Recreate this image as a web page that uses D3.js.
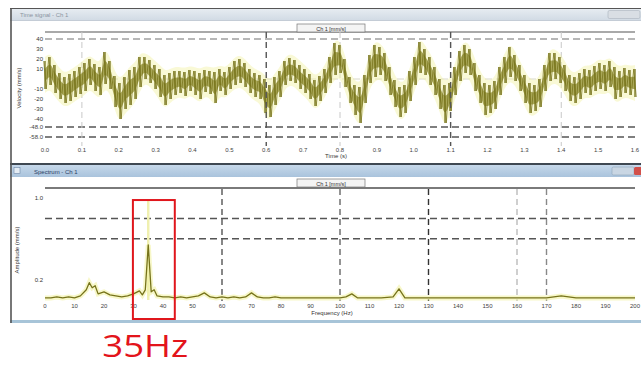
<!DOCTYPE html>
<html><head><meta charset="utf-8">
<script src="https://cdn.jsdelivr.net/npm/d3@7"></script>
<style>
html,body{margin:0;padding:0;background:#fff;}
svg{display:block;font-family:"Liberation Sans",Arial,sans-serif;}
</style>
</head><body>
<svg id="c" width="641" height="369"></svg>
<script>
// ---- time signal: per-sample max / min of velocity (mm/s), 0 .. 1.6 s ----
const timeHi = [18,22,14,6,2,5,8,12,16,20,15,12,27,18,3,-4,2,9,12,22,22,19,14,10,4,6,8,8,7,9,8,6,9,8,7,10,7,12,18,20,16,10,6,4,0,-6,2,8,18,21,19,14,10,5,-1,3,10,22,36,34,20,2,-6,-8,4,24,34,32,26,12,-1,-8,-6,8,22,37,30,22,12,0,-6,-4,12,28,34,30,16,4,-4,-6,-2,12,22,32,24,14,4,-4,-6,0,14,26,26,22,14,4,2,6,10,9,13,16,14,18,12,8,11,9,10];
const timeLo = [-10,-6,-14,-20,-24,-22,-18,-15,-12,-6,-12,-16,-5,-10,-28,-40,-30,-26,-20,-8,0,-4,-10,-18,-26,-20,-16,-14,-17,-12,-16,-20,-13,-15,-24,-12,-16,-10,-6,-4,-8,-14,-18,-20,-34,-38,-26,-18,-6,-2,-4,-10,-14,-20,-27,-22,-14,-4,4,6,-8,-24,-36,-44,-24,-4,2,4,-2,-16,-28,-38,-34,-22,-6,6,4,-6,-16,-30,-44,-32,-16,-2,6,4,-12,-24,-36,-34,-30,-16,-4,2,-2,-12,-24,-34,-32,-28,-12,-2,0,-4,-12,-22,-24,-20,-14,-16,-12,-10,-12,-8,-20,-18,-14,-16,-18];
const timeTickLabels = ["0.0","0.1","0.2","0.3","0.4","0.5","0.6","0.7","0.8","0.9","1.0","1.1","1.2","1.3","1.4","1.5","1.6"];
const timeYTicks = [40,30,20,10,-10,-20,-30,-40];
const timeAlarmHigh = 40;
const timeAlarmLow = [-48,-58];
const timeCursorsLight = [0.1,0.8,1.4];
const timeCursorsDark = [0.6,1.1];

// ---- spectrum: amplitude (mm/s) against frequency (Hz) ----
const specFreq = [0,2,4,6,8,10,12,14,15,16,17,18,20,22,24,26,28,30,32,33,34,35,36,37,38,40,42,44,46,48,50,52,54,56,58,60,62,64,66,68,70,72,74,76,78,80,84,88,92,96,100,102,104,106,110,114,118,120,122,126,130,140,150,160,170,175,180,190,200];
const specAmp  = [0.02,0.02,0.03,0.02,0.03,0.02,0.04,0.10,0.17,0.12,0.14,0.06,0.08,0.05,0.04,0.03,0.04,0.06,0.09,0.05,0.10,0.54,0.08,0.10,0.04,0.03,0.03,0.02,0.03,0.02,0.03,0.04,0.07,0.03,0.02,0.03,0.02,0.03,0.02,0.03,0.07,0.03,0.02,0.02,0.03,0.02,0.02,0.02,0.02,0.02,0.02,0.03,0.06,0.02,0.02,0.02,0.03,0.11,0.02,0.02,0.02,0.02,0.02,0.02,0.02,0.04,0.02,0.02,0.02];
const specPeakHold = {freq:35, amp:0.98};
const freqTickLabels = ["0","10","20","30","40","50","60","70","80","90","100","110","120","130","140","150","160","170","180","190","200"];
const specYTicks = [1.0,0.2];
const specAlarms = [0.8,0.6];
const freqCursors = [{f:60,c:"#555"},{f:100,c:"#666"},{f:130,c:"#333"},{f:160,c:"#bbb"},{f:170,c:"#888"}];
const markedFreq = 35;

const svg = d3.select("#c");
const olive = "#76731a";
const halo = "#f1f1a4";

// ---------- window frames ----------
const defs = svg.append("defs");
const g1 = defs.append("linearGradient").attr("id","tb1").attr("x1",0).attr("y1",0).attr("x2",0).attr("y2",1);
g1.append("stop").attr("offset","0").attr("stop-color","#e8edf2");
g1.append("stop").attr("offset","1").attr("stop-color","#d2dbe5");
const g2 = defs.append("linearGradient").attr("id","tb2").attr("x1",0).attr("y1",0).attr("x2",0).attr("y2",1);
g2.append("stop").attr("offset","0").attr("stop-color","#c6d8ea");
g2.append("stop").attr("offset","1").attr("stop-color","#a9c3dc");

// top window
svg.append("rect").attr("x",10).attr("y",8).attr("width",631).attr("height",156).attr("fill","#fff");
svg.append("rect").attr("x",10).attr("y",8).attr("width",631).attr("height",12).attr("fill","url(#tb1)");
svg.append("line").attr("x1",10).attr("x2",641).attr("y1",8.5).attr("y2",8.5).attr("stroke","#555").attr("stroke-width",1.2);
svg.append("line").attr("x1",10).attr("x2",641).attr("y1",20.5).attr("y2",20.5).attr("stroke","#c4ccd6");
svg.append("text").attr("x",20).attr("y",17).attr("font-size",6).attr("fill","#8a94a0").text("Time signal - Ch 1");
svg.append("rect").attr("x",608).attr("y",10.5).attr("width",32).attr("height",8).attr("rx",1.5).attr("fill","#d9dee4").attr("stroke","#aab2bc").attr("stroke-width",0.6);

// lower window
svg.append("rect").attr("x",10).attr("y",163).attr("width",631).attr("height",2.2).attr("fill","#3f4852");
svg.append("rect").attr("x",10).attr("y",165).attr("width",631).attr("height",12).attr("fill","url(#tb2)");
svg.append("rect").attr("x",10).attr("y",177).attr("width",631).attr("height",143).attr("fill","#fff");
svg.append("rect").attr("x",10).attr("y",320).attr("width",631).attr("height",3).attr("fill","#a7c4d8");
svg.append("text").attr("x",34).attr("y",173.5).attr("font-size",6).attr("fill","#2c3e66").text("Spectrum - Ch 1");
svg.append("rect").attr("x",14).attr("y",167.5).attr("width",6).attr("height",6).attr("fill","#e4ecf4").attr("stroke","#6d86a6").attr("stroke-width",0.6);
svg.append("rect").attr("x",612).attr("y",167).attr("width",22).attr("height",8).attr("rx",1.5).attr("fill","#c9d6e3").attr("stroke","#8fa4ba").attr("stroke-width",0.6);
svg.append("rect").attr("x",634).attr("y",167).attr("width",8).attr("height",8).attr("rx",1.5).attr("fill","#d2504a");

// left frame edge
svg.append("line").attr("x1",11).attr("x2",11).attr("y1",8).attr("y2",323).attr("stroke","#555").attr("stroke-width",1.6);

// ---------- time signal plot ----------
const xT = d3.scaleLinear().domain([0,1.6]).range([45,635]);
const yT = d3.scaleLinear().domain([-58,40]).range([137,39]);
const nT = timeHi.length;
const dt = 1.6/(nT-1);
const tAt = i => i*dt;

// header rule and tab
svg.append("line").attr("x1",xT(0)).attr("x2",xT(1.6)).attr("y1",32).attr("y2",32).attr("stroke","#8c8c8c").attr("stroke-width",1.6);
svg.append("rect").attr("x",297).attr("y",24).attr("width",68).attr("height",8).attr("fill","#f4f4f4").attr("stroke","#777").attr("stroke-width",0.7);
svg.append("text").attr("x",331).attr("y",30.5).attr("text-anchor","middle").attr("font-size",5.5).attr("fill","#333").text("Ch 1  [mm/s]");

// horizontal levels
svg.append("line").attr("x1",xT(0)).attr("x2",xT(1.6)).attr("y1",yT(timeAlarmHigh)).attr("y2",yT(timeAlarmHigh))
  .attr("stroke","#a0a0a0").attr("stroke-width",1.3).attr("stroke-dasharray","7,4");
svg.append("line").attr("x1",xT(0)).attr("x2",xT(1.6)).attr("y1",yT(0)).attr("y2",yT(0))
  .attr("stroke","#d8d8c8").attr("stroke-width",1).attr("stroke-dasharray","7,4");
timeAlarmLow.forEach(v=>{
  svg.append("line").attr("x1",xT(0)).attr("x2",xT(1.6)).attr("y1",yT(v)).attr("y2",yT(v))
    .attr("stroke","#555").attr("stroke-width",1.5).attr("stroke-dasharray","7,4");
});
timeCursorsLight.forEach(t=>{
  svg.append("line").attr("x1",xT(t)).attr("x2",xT(t)).attr("y1",32).attr("y2",146)
    .attr("stroke","#c8c8c8").attr("stroke-width",1).attr("stroke-dasharray","6,4");
});

// signal halo
const area = d3.area().x((d,i)=>xT(tAt(i))).y0((d,i)=>yT(timeLo[i])+4).y1(d=>yT(d)-4).curve(d3.curveBasis);
svg.append("path").datum(timeHi).attr("d",area).attr("fill",halo).attr("opacity",0.45);
// dense core of the trace
const core = d3.area().x((d,i)=>xT(tAt(i)))
  .y0((d,i)=>yT((d+timeLo[i])/2 - (d-timeLo[i])*0.22))
  .y1((d,i)=>yT((d+timeLo[i])/2 + (d-timeLo[i])*0.22)).curve(d3.curveMonotoneX);
svg.append("path").datum(timeHi).attr("d",core).attr("fill","#8e8b2c").attr("opacity",0.75);
// per-sample min/max strokes
svg.append("g").selectAll("line").data(timeHi).join("line")
  .attr("x1",(d,i)=>xT(tAt(i))).attr("x2",(d,i)=>xT(tAt(i)))
  .attr("y1",d=>yT(d)).attr("y2",(d,i)=>yT(timeLo[i]))
  .attr("stroke",olive).attr("stroke-width",1.3);
// zig-zag between extremes
const zig = [];
timeHi.forEach((h,i)=>{
  zig.push([tAt(i)-dt/4, h]);
  zig.push([tAt(i)+dt/4, timeLo[i]]);
});
const lineT = d3.line().x(d=>xT(d[0])).y(d=>yT(d[1]));
svg.append("path").datum(zig).attr("d",lineT).attr("fill","none").attr("stroke",olive).attr("stroke-width",0.9).attr("stroke-linejoin","round").attr("opacity",0.85);

timeCursorsDark.forEach(t=>{
  svg.append("line").attr("x1",xT(t)).attr("x2",xT(t)).attr("y1",32).attr("y2",146)
    .attr("stroke","#555").attr("stroke-width",1.4).attr("stroke-dasharray","6,4");
});

// y labels
timeYTicks.forEach(v=>{
  svg.append("text").attr("x",43).attr("y",yT(v)+2).attr("text-anchor","end").attr("font-size",6).attr("fill","#333").text(v);
});
timeAlarmLow.forEach(v=>{
  svg.append("text").attr("x",43).attr("y",yT(v)+2).attr("text-anchor","end").attr("font-size",6).attr("fill","#444").text(v.toFixed(1));
});
svg.append("text").attr("transform","translate(21,88) rotate(-90)").attr("text-anchor","middle").attr("font-size",6).attr("fill","#333").text("Velocity (mm/s)");
// x labels
timeTickLabels.forEach((s,i)=>{
  svg.append("text").attr("x",xT(i*0.1)).attr("y",152).attr("text-anchor","middle").attr("font-size",6).attr("fill","#444").text(s);
});
svg.append("text").attr("x",336).attr("y",158).attr("text-anchor","middle").attr("font-size",6).attr("fill","#333").text("Time (s)");

// ---------- spectrum plot ----------
const xF = d3.scaleLinear().domain([0,200]).range([45,635]);
const yF = d3.scaleLinear().domain([0,1]).range([300,198]);

svg.append("line").attr("x1",xF(0)).attr("x2",xF(200)).attr("y1",188).attr("y2",188).attr("stroke","#7a7a7a").attr("stroke-width",1.8);
svg.append("rect").attr("x",297).attr("y",179).attr("width",68).attr("height",8).attr("fill","#f4f4f4").attr("stroke","#777").attr("stroke-width",0.7);
svg.append("text").attr("x",331).attr("y",185.5).attr("text-anchor","middle").attr("font-size",5.5).attr("fill","#333").text("Ch 1  [mm/s]");

specAlarms.forEach(v=>{
  svg.append("line").attr("x1",xF(0)).attr("x2",xF(200)).attr("y1",yF(v)).attr("y2",yF(v))
    .attr("stroke","#555").attr("stroke-width",1.5).attr("stroke-dasharray","7,4");
});
freqCursors.forEach(d=>{
  svg.append("line").attr("x1",xF(d.f)).attr("x2",xF(d.f)).attr("y1",189).attr("y2",301)
    .attr("stroke",d.c).attr("stroke-width",1.4).attr("stroke-dasharray","6,4");
});

// peak hold, halo, trace
svg.append("line").attr("x1",xF(specPeakHold.freq)).attr("x2",xF(specPeakHold.freq))
  .attr("y1",yF(specPeakHold.amp)).attr("y2",yF(0)).attr("stroke","#f0f0b0").attr("stroke-width",2.5);
const lineF = d3.line().x((d,i)=>xF(specFreq[i])).y(d=>yF(d));
svg.append("path").datum(specAmp).attr("d",lineF).attr("fill","none").attr("stroke",halo).attr("stroke-width",5).attr("opacity",0.6);
svg.append("path").datum(specAmp).attr("d",lineF).attr("fill","none").attr("stroke",olive).attr("stroke-width",1.3).attr("stroke-linejoin","round");

specYTicks.forEach(v=>{
  svg.append("text").attr("x",43).attr("y",yF(v)+2).attr("text-anchor","end").attr("font-size",6).attr("fill","#333").text(v.toFixed(1));
});
svg.append("text").attr("transform","translate(19,250) rotate(-90)").attr("text-anchor","middle").attr("font-size",6).attr("fill","#333").text("Amplitude (mm/s)");
freqTickLabels.forEach((s,i)=>{
  svg.append("text").attr("x",xF(i*10)).attr("y",308).attr("text-anchor","middle").attr("font-size",6).attr("fill","#444").text(s);
});
svg.append("text").attr("x",332).attr("y",315).attr("text-anchor","middle").attr("font-size",6).attr("fill","#333").text("Frequency (Hz)");

// ---------- annotation of the 35 Hz component ----------
svg.append("rect").attr("x",xF(markedFreq-5.2)).attr("y",yF(0.98)).attr("width",xF(markedFreq+9)-xF(markedFreq-5.2)).attr("height",319-yF(0.98))
  .attr("fill","none").attr("stroke","#e0161c").attr("stroke-width",2);
svg.append("text").attr("x",xF(markedFreq)-46).attr("y",357).attr("font-family","'Open Sans',sans-serif").attr("font-size",31)
  .attr("fill","#e3141b").attr("textLength",86).attr("lengthAdjust","spacingAndGlyphs").text(markedFreq+"Hz");
</script>
</body></html>
